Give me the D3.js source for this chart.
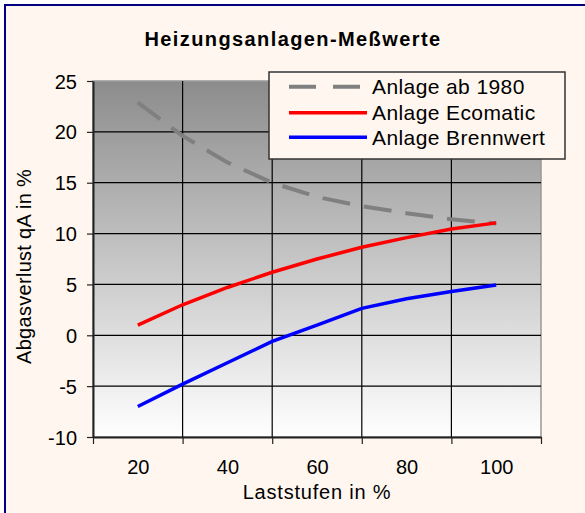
<!DOCTYPE html>
<html>
<head>
<meta charset="utf-8">
<script src="https://cdn.jsdelivr.net/npm/d3@7"></script>
<style>
  body { margin: 0; background: #fff; }
  svg { display: block; font-family: "Liberation Sans", Arial, sans-serif; }
</style>
</head>
<body>
<svg id="chart" width="585" height="513"></svg>
<script>
// data
const laststufen = [20, 30, 40, 50, 60, 70, 80, 90, 100];
const anlage1980 = [22.9, 19.6, 17.0, 15.0, 13.6, 12.7, 12.0, 11.4, 11.0];
const ecomatic   = [1.0, 3.0, 4.7, 6.2, 7.5, 8.65, 9.6, 10.45, 11.05];
const brennwert  = [-7.0, -4.8, -2.7, -0.6, 1.0, 2.65, 3.6, 4.3, 4.95];
const xLabels = [20, 40, 60, 80, 100];
const xGrid = [10, 30, 50, 70, 90, 110];
const yTicks = [-10, -5, 0, 5, 10, 15, 20, 25];

const series = [
  { name: "Anlage ab 1980", values: anlage1980, color: "#808080", width: 4, dash: "28,14" },
  { name: "Anlage Ecomatic", values: ecomatic, color: "#ff0000", width: 3.5, dash: null },
  { name: "Anlage Brennwert", values: brennwert, color: "#0000ff", width: 3.5, dash: null }
];

const svg = d3.select("#chart");

// page background + navy frame (only top/left visible)
svg.append("rect").attr("x", 5).attr("y", 5).attr("width", 600).attr("height", 530)
  .attr("fill", "#fff7ef").attr("stroke", "#000080").attr("stroke-width", 2);

const pLeft = 93, pRight = 541, pTop = 81, pBottom = 437;
const x = d3.scaleLinear().domain([10, 110]).range([pLeft, pRight]);
const y = d3.scaleLinear().domain([-10, 25]).range([pBottom, pTop]);

// plot gradient
const grad = svg.append("defs").append("linearGradient")
  .attr("id", "plotGrad").attr("x1", 0).attr("y1", 0).attr("x2", 0).attr("y2", 1);
grad.append("stop").attr("offset", "0%").attr("stop-color", "#8c8c8c");
grad.append("stop").attr("offset", "100%").attr("stop-color", "#ffffff");

svg.append("rect")
  .attr("x", pLeft).attr("y", pTop)
  .attr("width", pRight - pLeft).attr("height", pBottom - pTop)
  .attr("fill", "url(#plotGrad)")
  .attr("stroke", "#999").attr("stroke-width", 1.5);

// grid
svg.append("g").selectAll("line")
  .data(yTicks.filter(d => d > -10 && d < 25))
  .join("line")
  .attr("x1", pLeft).attr("x2", pRight)
  .attr("y1", d => y(d)).attr("y2", d => y(d))
  .attr("stroke", "#000").attr("stroke-width", 1.2);

svg.append("g").selectAll("line")
  .data(xGrid.slice(1, -1))
  .join("line")
  .attr("x1", d => x(d)).attr("x2", d => x(d))
  .attr("y1", pTop).attr("y2", pBottom)
  .attr("stroke", "#000").attr("stroke-width", 1.2);

// axes (plain hyphen minus like the original)
const yAxis = svg.append("g")
  .attr("transform", `translate(${pLeft},0)`)
  .call(d3.axisLeft(y).tickValues(yTicks).tickSize(6).tickPadding(10).tickSizeOuter(0)
    .tickFormat(d => String(d)));

const xTickAxis = svg.append("g")
  .attr("transform", `translate(0,${pBottom})`)
  .call(d3.axisBottom(x).tickValues(xGrid).tickSize(7).tickFormat("").tickSizeOuter(0));

const xLabelAxis = svg.append("g")
  .attr("transform", `translate(0,${pBottom})`)
  .call(d3.axisBottom(x).tickValues(xLabels).tickSize(0).tickPadding(23)
    .tickFormat(d => String(d)));
xLabelAxis.select(".domain").remove();

svg.selectAll(".tick text").attr("font-size", 20).attr("fill", "#000")
  .attr("font-family", "'Liberation Sans', Arial, sans-serif");
yAxis.selectAll(".tick text").attr("dy", "0.35em");
svg.selectAll(".domain").attr("stroke", "#222").attr("stroke-width", 2);
svg.selectAll(".tick line").attr("stroke", "#222").attr("stroke-width", 1.2);

// lines
const line = d3.line()
  .x((d, i) => x(laststufen[i]))
  .y(d => y(d));

series.forEach(s => {
  svg.append("path")
    .datum(s.values)
    .attr("d", line)
    .attr("fill", "none")
    .attr("stroke", s.color)
    .attr("stroke-width", s.width)
    .attr("stroke-dasharray", s.dash);
});

// title
svg.append("text")
  .attr("x", 293).attr("y", 45.5)
  .attr("text-anchor", "middle")
  .attr("font-size", 20).attr("font-weight", "bold")
  .attr("letter-spacing", 1.4)
  .text("Heizungsanlagen-Meßwerte");

// axis titles
svg.append("text")
  .attr("x", 317).attr("y", 498.5)
  .attr("text-anchor", "middle")
  .attr("font-size", 20).attr("letter-spacing", 0.8)
  .text("Laststufen in %");

svg.append("text")
  .attr("transform", "translate(31,266.5) rotate(-90)")
  .attr("text-anchor", "middle")
  .attr("font-size", 20).attr("letter-spacing", 0.3)
  .text("Abgasverlust qA in %");

// legend
const legend = svg.append("g");
legend.append("rect")
  .attr("x", 269).attr("y", 72).attr("width", 296).attr("height", 87)
  .attr("fill", "#fff7ef").attr("stroke", "#333").attr("stroke-width", 1.5);

const legendRow = d3.scaleOrdinal().domain(series.map(s => s.name)).range([86.7, 112.7, 137.3]);

const item = legend.selectAll("g.item")
  .data(series)
  .join("g")
  .attr("class", "item")
  .attr("transform", d => `translate(0,${legendRow(d.name)})`);

item.append("line")
  .attr("x1", 289).attr("x2", 367)
  .attr("stroke", d => d.color)
  .attr("stroke-width", d => d.width)
  .attr("stroke-dasharray", d => d.dash ? "27,17" : null);

item.append("text")
  .attr("x", 372).attr("dy", "0.35em")
  .attr("font-size", 21).attr("letter-spacing", 0.4)
  .text(d => d.name);
</script>
</body>
</html>
